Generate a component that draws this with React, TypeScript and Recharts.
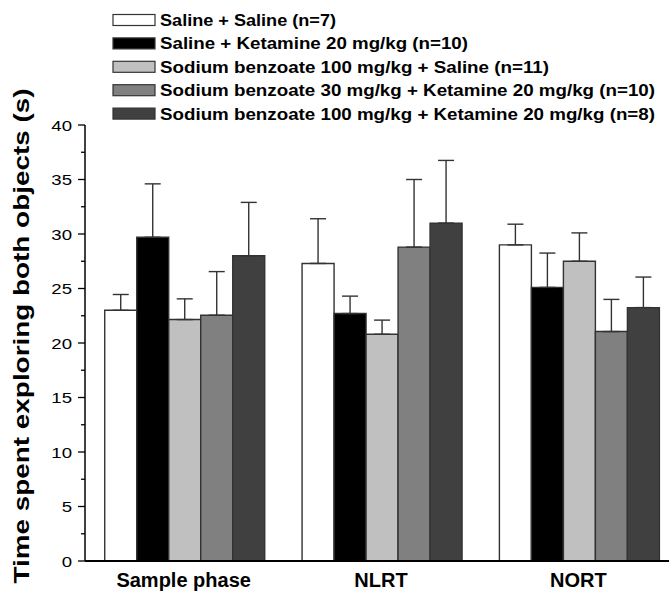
import { BarChart, Bar, XAxis, YAxis, ErrorBar } from "recharts"

const phases = ["Sample phase", "NLRT", "NORT"]

const groupNames = [
  "Saline + Saline (n=7)",
  "Saline + Ketamine 20 mg/kg (n=10)",
  "Sodium benzoate 100 mg/kg + Saline (n=11)",
  "Sodium benzoate 30 mg/kg + Ketamine 20 mg/kg (n=10)",
  "Sodium benzoate 100 mg/kg + Ketamine 20 mg/kg (n=8)",
]
const groupFills = ["#ffffff", "#000000", "#c0c0c0", "#808080", "#404040"]

// mean exploration time (s) per phase, and upper SEM
const salineSaline = [23.0, 27.3, 29.0]
const salineSalineSem = [1.45, 4.1, 1.9]
const salineKetamine = [29.7, 22.7, 25.1]
const salineKetamineSem = [4.9, 1.6, 3.15]
const sb100Saline = [22.15, 20.8, 27.5]
const sb100SalineSem = [1.9, 1.3, 2.6]
const sb30Ketamine = [22.55, 28.8, 21.05]
const sb30KetamineSem = [4.0, 6.2, 2.95]
const sb100Ketamine = [28.0, 31.0, 23.25]
const sb100KetamineSem = [4.9, 5.75, 2.8]

const yTicks = [0, 2.5, 5, 7.5, 10, 12.5, 15, 17.5, 20, 22.5, 25, 27.5, 30, 32.5, 35, 37.5, 40]

const means = [salineSaline, salineKetamine, sb100Saline, sb30Ketamine, sb100Ketamine]
const sems = [salineSalineSem, salineKetamineSem, sb100SalineSem, sb30KetamineSem, sb100KetamineSem]

const rows = phases.map((phase, i) => {
  const row: Record<string, string | number | number[]> = { phase }
  means.forEach((m, g) => {
    row[`g${g}`] = m[i]
    row[`g${g}err`] = [0, sems[g][i]]
  })
  return row
})

const FONT = "'Liberation Sans', Arial, sans-serif"

// legend line widths (px), so the wide bold lettering fits its row
const legendTextWidths = [176, 308, 389, 495, 495]

function ValueTick(props: any) {
  const { x, y, payload } = props
  const major = payload.value % 5 === 0
  return (
    <g>
      <line x1={x - (major ? 7 : 4)} x2={x} y1={y} y2={y} stroke="#000" strokeWidth={1.3} />
      {major && (
        <text
          transform={`translate(${x - 13},${y}) scale(1.2,1)`}
          textAnchor="end"
          dy="0.36em"
          fontSize={15.5}
          fontFamily={FONT}
          fill="#000"
        >
          {payload.value}
        </text>
      )}
    </g>
  )
}

function PhaseTick(props: any) {
  const { x, y, payload } = props
  return (
    <text x={x} y={y + 26} textAnchor="middle" fontSize={20} fontWeight="bold" fontFamily={FONT} fill="#000">
      {payload.value}
    </text>
  )
}

function GroupLegend() {
  return (
    <g>
      {groupNames.map((name, i) => {
        const cy = 20 + i * 23.4
        return (
          <g key={name}>
            <rect x={113} y={cy - 5.5} width={42} height={11} fill={groupFills[i]} stroke="#333" strokeWidth={1.2} />
            <text
              x={160}
              y={cy + 6}
              fontSize={16.5}
              fontWeight="bold"
              fontFamily={FONT}
              textLength={legendTextWidths[i]}
              lengthAdjust="spacingAndGlyphs"
              fill="#000"
            >
              {name}
            </text>
          </g>
        )
      })}
    </g>
  )
}

export default function App() {
  return (
    <div style={{ position: "fixed", left: 0, top: 0, width: 669, height: 595, overflow: "hidden", background: "#fff" }}>
      <BarChart
        width={677}
        height={595}
        data={rows}
        margin={{ top: 125, right: 0, bottom: 0, left: 0 }}
        barCategoryGap="10%"
        barGap={0}
      >
        <XAxis
          dataKey="phase"
          height={34}
          interval={0}
          tickSize={0}
          tickMargin={0}
          tickLine={false}
          tick={PhaseTick}
          stroke="#000"
          strokeWidth={2}
        />
        <YAxis
          type="number"
          domain={[0, 40]}
          ticks={yTicks}
          interval={0}
          width={85}
          tickSize={0}
          tickMargin={0}
          tickLine={false}
          tick={ValueTick}
          stroke="#000"
          strokeWidth={1.5}
        />
        {groupFills.map((fill, g) => (
          <Bar
            key={g}
            dataKey={`g${g}`}
            fill={fill}
            stroke="#333"
            strokeWidth={1.4}
            isAnimationActive={false}
          >
            <ErrorBar
              dataKey={`g${g}err`}
              direction="y"
              width={8}
              stroke="#333"
              strokeWidth={1.4}
              isAnimationActive={false}
            />
          </Bar>
        ))}
      </BarChart>
      <svg width={669} height={595} style={{ position: "absolute", left: 0, top: 0, pointerEvents: "none" }}>
        <GroupLegend />
        <text
          transform="translate(28.5,336) rotate(-90)"
          textAnchor="middle"
          fontSize={21.5}
          fontWeight="bold"
          fontFamily={FONT}
          textLength={495}
          lengthAdjust="spacingAndGlyphs"
          fill="#000"
        >
          Time spent exploring both objects (s)
        </text>
      </svg>
    </div>
  )
}
